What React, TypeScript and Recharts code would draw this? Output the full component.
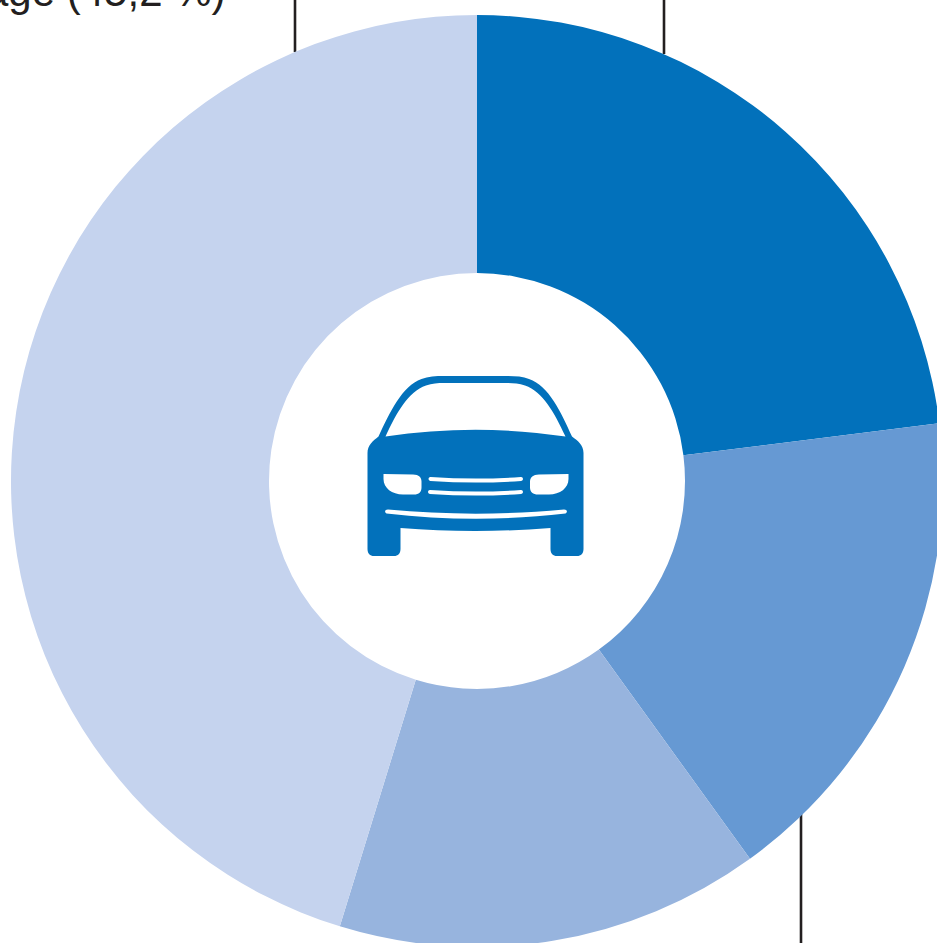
import React from 'react';
import { PieChart, Pie, Cell } from 'recharts';

const segments = ['Segment 1', 'Segment 2', 'Segment 3', 'Segment 4'];
const shares = [23, 17, 14.7, 45.2];
const colors = ['#0271bb', '#6699d3', '#97b4de', '#c5d3ee'];
const cutOffLabel = 'age (45,2 %)';

const chartData = segments.map((name, i) => ({ name, value: shares[i] }));

// Leader lines that run out of the crop towards labels outside the picture
const leaders = [
  { x: 295, y1: 0, y2: 52 },
  { x: 664, y1: 0, y2: 54 },
  { x: 801, y1: 812, y2: 943 },
];

const carBody =
  'M378.5 436.5 C390 412 402 386 421.5 379 C428 376.5 436 376 444 376 L507 376 C515 376 523 376.5 529 379 C549 386 561 412 572 436.5 C578 441 583.5 445 583.5 453 L583.5 549 C583.5 553.5 581 556 577 556 L557 556 C553 556 550.5 553.5 550.5 549 L550.5 528 C500 532 450 532 400.5 528 L400.5 549 C400.5 553.5 398 556 394 556 L374 556 C370 556 367.5 553.5 367.5 549 L367.5 453 C367.5 445 373 441 378.5 436.5 Z';
const windshield =
  'M385.5 436.5 C397 412 408 392 426 385.5 C432 383.5 438 383 444 383 L507 383 C513 383 519 383.5 525 385.5 C543 392 554 412 565.5 436.5 C505 427.5 446 427.5 385.5 436.5 Z';
const leftLamp =
  'M383.5 474 L413 474.5 C419 474.5 421.5 477.5 421.5 481.5 L421.5 487.5 C421.5 492 419 494.5 414 494.5 L403 494.5 C392 494.5 383.5 488 383.5 479 Z';
const rightLamp =
  'M568.5 474 L539 474.5 C533 474.5 530 477.5 530 481.5 L530 487.5 C530 492 533 494.5 538 494.5 L549 494.5 C560 494.5 568.5 488 568.5 479 Z';
const grilleTop = 'M430.5 479 C460 481 492 481 521 479';
const grilleBottom = 'M430 492 C460 494 492 494 521 492';
const bumper =
  'M388 509.5 C446 515 505 515 564 509.5 C567 509.5 568 512 565.5 513.5 C506 520.5 446 520.5 386.5 513.5 C384 512 385 509.5 388 509.5 Z';

const App = () => (
  <div style={{ position: 'fixed', left: 0, top: 0, width: 937, height: 943, overflow: 'hidden', background: '#fff' }}>
    <svg width={937} height={943} style={{ position: 'absolute', left: 0, top: 0 }}>
      {leaders.map((l) => (
        <line key={l.x} x1={l.x} x2={l.x} y1={l.y1} y2={l.y2} stroke="#231f20" strokeWidth={2.6} />
      ))}
      <text x={225.5} y={6} textAnchor="end" fontFamily="Liberation Sans" fontSize={42} fill="#231f20">
        {cutOffLabel}
      </text>
    </svg>
    <div style={{ position: 'absolute', left: 0, top: 0 }}>
      <PieChart width={937} height={943} margin={{ top: 0, right: 0, bottom: 0, left: 0 }}>
        <Pie
          data={chartData}
          dataKey="value"
          nameKey="name"
          cx={477}
          cy={481}
          innerRadius={208}
          outerRadius={466}
          startAngle={90}
          endAngle={-270}
          stroke="none"
          isAnimationActive={false}
        >
          {chartData.map((d, i) => (
            <Cell key={d.name} fill={colors[i]} />
          ))}
        </Pie>
      </PieChart>
    </div>
    <svg width={937} height={943} style={{ position: 'absolute', left: 0, top: 0 }}>
      <path d={carBody} fill={colors[0]} />
      <path d={windshield} fill="#fff" />
      <path d={leftLamp} fill="#fff" />
      <path d={rightLamp} fill="#fff" />
      <path d={grilleTop} fill="none" stroke="#fff" strokeWidth={4} strokeLinecap="round" />
      <path d={grilleBottom} fill="none" stroke="#fff" strokeWidth={4} strokeLinecap="round" />
      <path d={bumper} fill="#fff" />
    </svg>
  </div>
);

export default App;
